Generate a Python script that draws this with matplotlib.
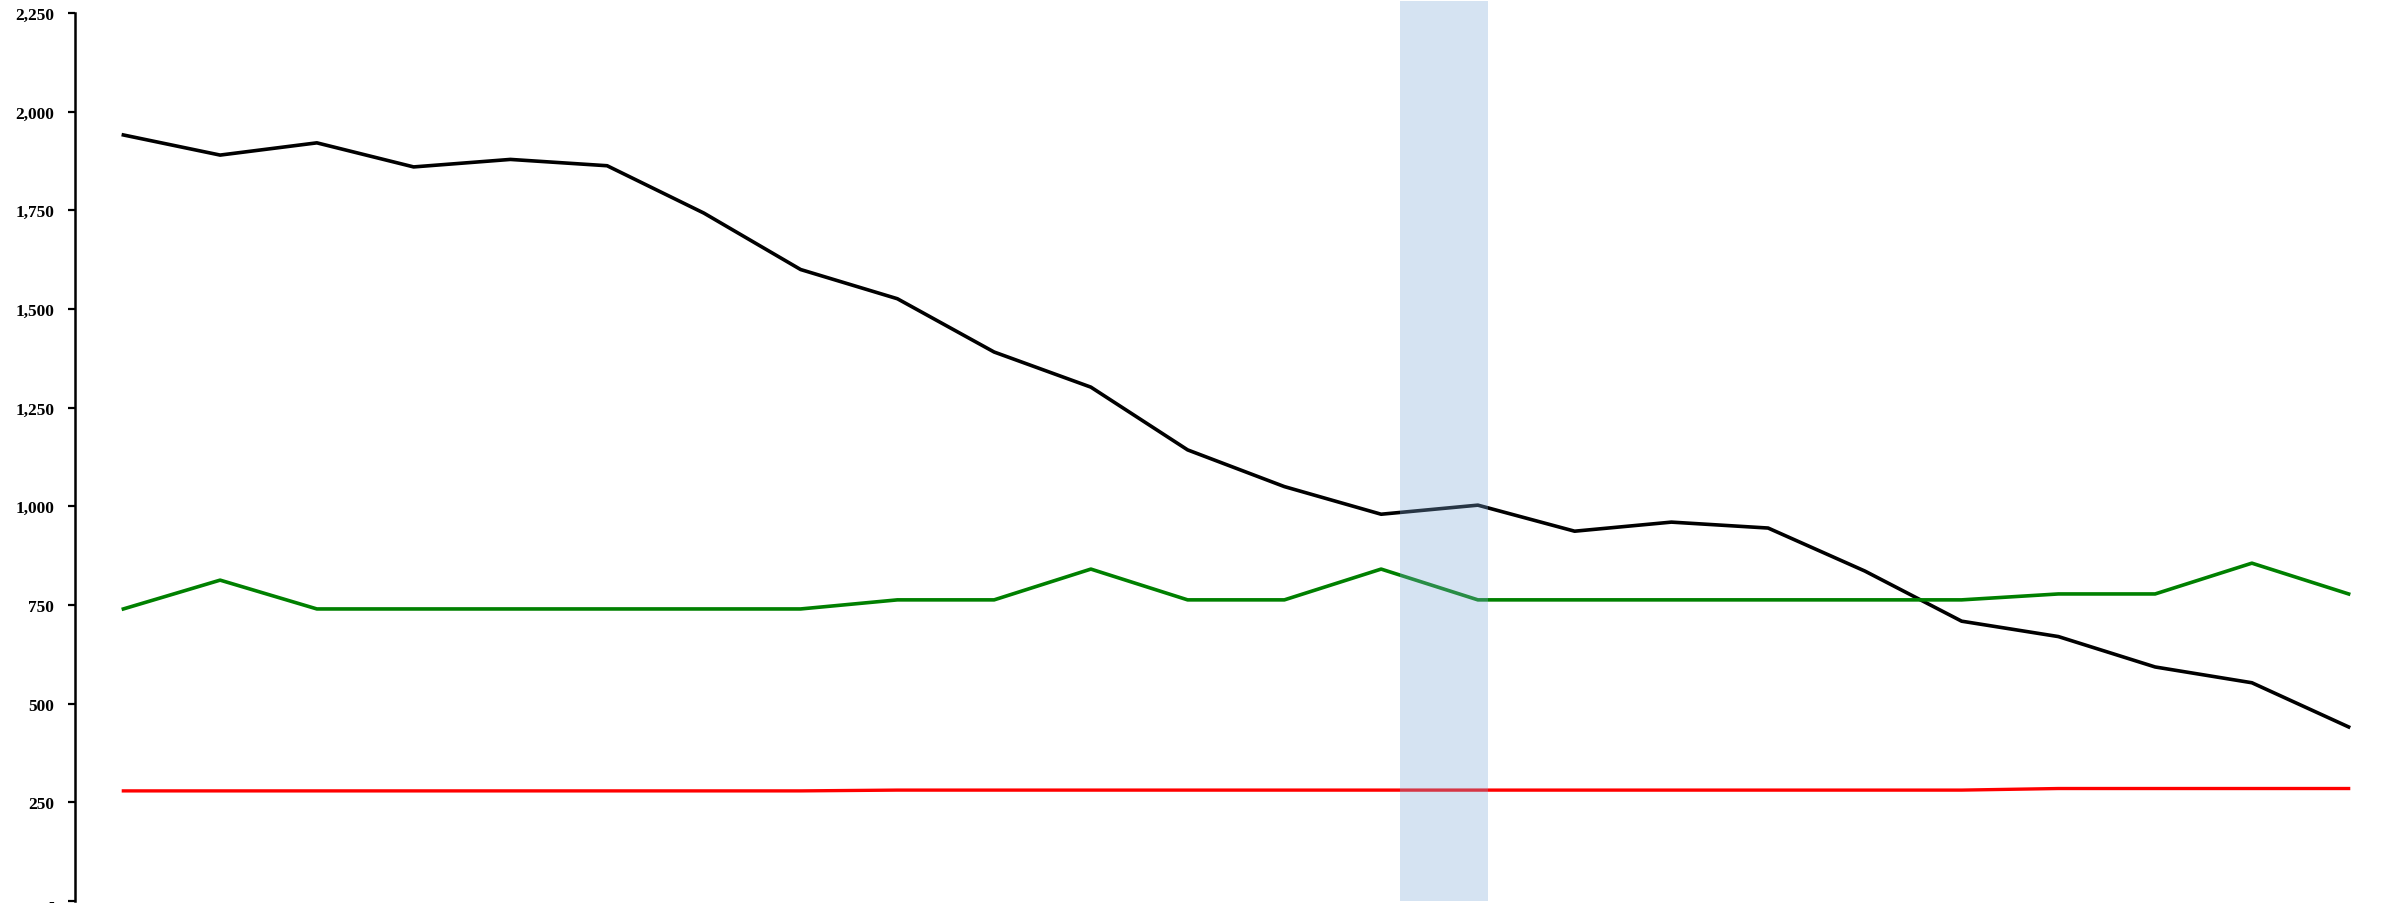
import numpy as np
import matplotlib
matplotlib.use('Agg')
import matplotlib.pyplot as plt
from matplotlib.ticker import FuncFormatter

# 24 periods, no x labels shown in the reference
periods = np.arange(24)

black_vals = [1941, 1890, 1921, 1860, 1879, 1863, 1743, 1600, 1526, 1391, 1302, 1143,
              1050, 980, 1003, 937, 960, 945, 836, 709, 670, 593, 553, 441]
green_vals = [740, 813, 740, 740, 740, 740, 740, 740, 763, 763, 841, 763,
              763, 841, 763, 763, 763, 763, 763, 763, 778, 778, 856, 778]
red_vals = [279, 279, 279, 279, 279, 279, 279, 279, 281, 281, 281, 281,
            281, 281, 281, 281, 281, 281, 281, 281, 285, 285, 285, 285]

band_start = 13.2
band_end = 14.1

yticks = [0, 250, 500, 750, 1000, 1250, 1500, 1750, 2000, 2250]

plt.rcParams['font.family'] = ['Liberation Serif', 'DejaVu Serif']

fig = plt.figure(figsize=(23.97, 9.04), dpi=100)
ax = fig.add_axes([75/2397, 2/904, 1 - 75/2397, 1 - 16/904])

ax.plot(periods, black_vals, color='black', lw=2.6, zorder=3)
ax.plot(periods, green_vals, color='#008000', lw=2.6, zorder=3)
ax.plot(periods, red_vals, color='#ff0000', lw=2.4, zorder=3)

ax.axvspan(band_start, band_end, ymin=0, ymax=1.013, color='#7daad9',
           alpha=0.32, lw=0, zorder=4, clip_on=False)

ax.set_xlim(-0.5, 23.5)
ax.set_ylim(0, 2250)
ax.set_yticks(yticks)
ax.yaxis.set_major_formatter(FuncFormatter(lambda v, p: '-' if v == 0 else f'{int(v):,}'))
ax.tick_params(axis='y', length=5, width=1.6, pad=10, labelsize=12.5)
for lab in ax.get_yticklabels():
    lab.set_fontweight('bold')
ax.set_xticks([])

for s in ['top', 'right', 'bottom']:
    ax.spines[s].set_visible(False)
ax.spines['left'].set_linewidth(1.8)

fig.savefig('out.png', dpi=100)
